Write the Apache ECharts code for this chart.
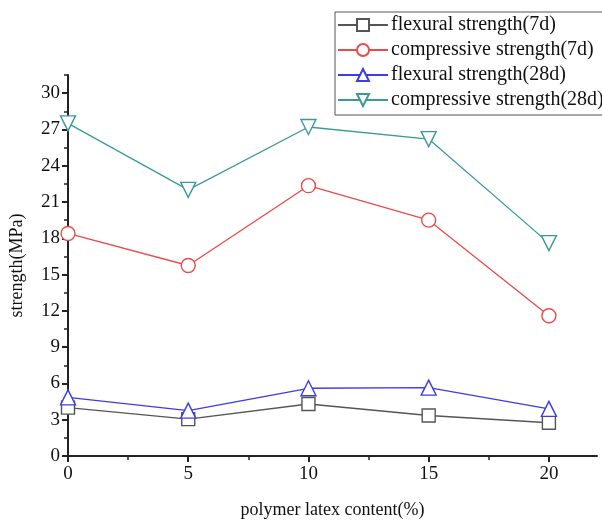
<!DOCTYPE html>
<html>
<head>
<meta charset="utf-8">
<script src="https://cdn.jsdelivr.net/npm/echarts@6/dist/echarts.min.js"></script>
<style>html,body{margin:0;padding:0;background:#fff}#c{width:602px;height:524px}</style>
</head>
<body>
<div id="c"></div>
<script>
var xValues = [0, 5, 10, 15, 20];
var flexural7d = [4.0, 3.05, 4.3, 3.35, 2.75];
var compressive7d = [18.4, 15.75, 22.35, 19.5, 11.6];
var flexural28d = [4.85, 3.75, 5.6, 5.65, 3.9];
var compressive28d = [27.5, 22.0, 27.2, 26.2, 17.6];
var seriesNames = ['flexural strength(7d)', 'compressive strength(7d)', 'flexural strength(28d)', 'compressive strength(28d)'];
var xMajorTicks = [0, 5, 10, 15, 20];
var xMinorTicks = [2.5, 7.5, 12.5, 17.5];
var yMajorTicks = [0, 3, 6, 9, 12, 15, 18, 21, 24, 27, 30];
var yMinorTicks = [1.5, 4.5, 7.5, 10.5, 13.5, 16.5, 19.5, 22.5, 25.5, 28.5, 31.5];

function pairs(vals) { return xValues.map(function (x, i) { return [x, vals[i]]; }); }

var FONT = '"Liberation Serif", "Times New Roman", serif';
var axisColor = '#222';

var chart = echarts.init(document.getElementById('c'), null, { renderer: 'canvas' });

function mk(name, data, color, symbol, size, rotate) {
  return {
    name: name, type: 'line', data: pairs(data),
    symbol: symbol, symbolSize: size, symbolRotate: rotate || 0,
    lineStyle: { color: color, width: 1.3 },
    itemStyle: { color: '#fff', borderColor: color, borderWidth: 1.4 },
    emphasis: { disabled: true },
    animation: false, z: 3
  };
}

chart.setOption({
  animation: false,
  backgroundColor: '#fff',
  grid: { left: 66, right: 5, top: 75, bottom: 61, containLabel: false },
  legend: {
    orient: 'vertical', left: 335, top: 12,
    padding: [3, 10, 5, 2], itemGap: 5, itemWidth: 50, itemHeight: 15,
    borderColor: '#555', borderWidth: 1, backgroundColor: '#fff',
    textStyle: { fontFamily: FONT, fontSize: 20, color: '#111', padding: [0, 0, 0, -2] },
    data: seriesNames,
    symbolRotate: 'inherit'
  },
  xAxis: [{
    type: 'value', min: 0, max: 22, interval: 5,
    name: 'polymer latex content(%)', nameLocation: 'middle', nameGap: 45,
    nameTextStyle: { fontFamily: FONT, fontSize: 18, color: '#111' },
    axisLine: { show: true, onZero: false, lineStyle: { color: axisColor, width: 2 } },
    axisTick: { show: true, length: 6, lineStyle: { color: axisColor, width: 2 }, customValues: xMajorTicks },
    axisLabel: { fontFamily: FONT, fontSize: 19, color: '#111', margin: 9, customValues: xMajorTicks },
    splitLine: { show: false }
  }, {
    type: 'value', min: 0, max: 22, position: 'bottom',
    axisLine: { show: false },
    axisTick: { show: true, length: 4, lineStyle: { color: axisColor, width: 1.5 }, customValues: xMinorTicks },
    axisLabel: { show: false },
    splitLine: { show: false }
  }],
  yAxis: [{
    type: 'value', min: 0, max: 31.5, interval: 3,
    name: 'strength(MPa)', nameLocation: 'middle', nameGap: 42,
    nameTextStyle: { fontFamily: FONT, fontSize: 18, color: '#111' },
    axisLine: { show: true, onZero: false, lineStyle: { color: axisColor, width: 2 } },
    axisTick: { show: true, length: 6, lineStyle: { color: axisColor, width: 2 }, customValues: yMajorTicks },
    axisLabel: { fontFamily: FONT, fontSize: 19, color: '#111', margin: 8, customValues: yMajorTicks },
    splitLine: { show: false }
  }, {
    type: 'value', min: 0, max: 31.5, position: 'left',
    axisLine: { show: false },
    axisTick: { show: true, length: 4, lineStyle: { color: axisColor, width: 1.5 }, customValues: yMinorTicks },
    axisLabel: { show: false },
    splitLine: { show: false }
  }],
  series: [
    mk(seriesNames[0], flexural7d, '#555555', 'rect', 13),
    mk(seriesNames[1], compressive7d, '#ec4a4a', 'circle', 14),
    mk(seriesNames[2], flexural28d, '#3c3ce6', 'triangle', 15),
    mk(seriesNames[3], compressive28d, '#3a9a98', 'triangle', 15, 180)
  ]
});
</script>
</body>
</html>
